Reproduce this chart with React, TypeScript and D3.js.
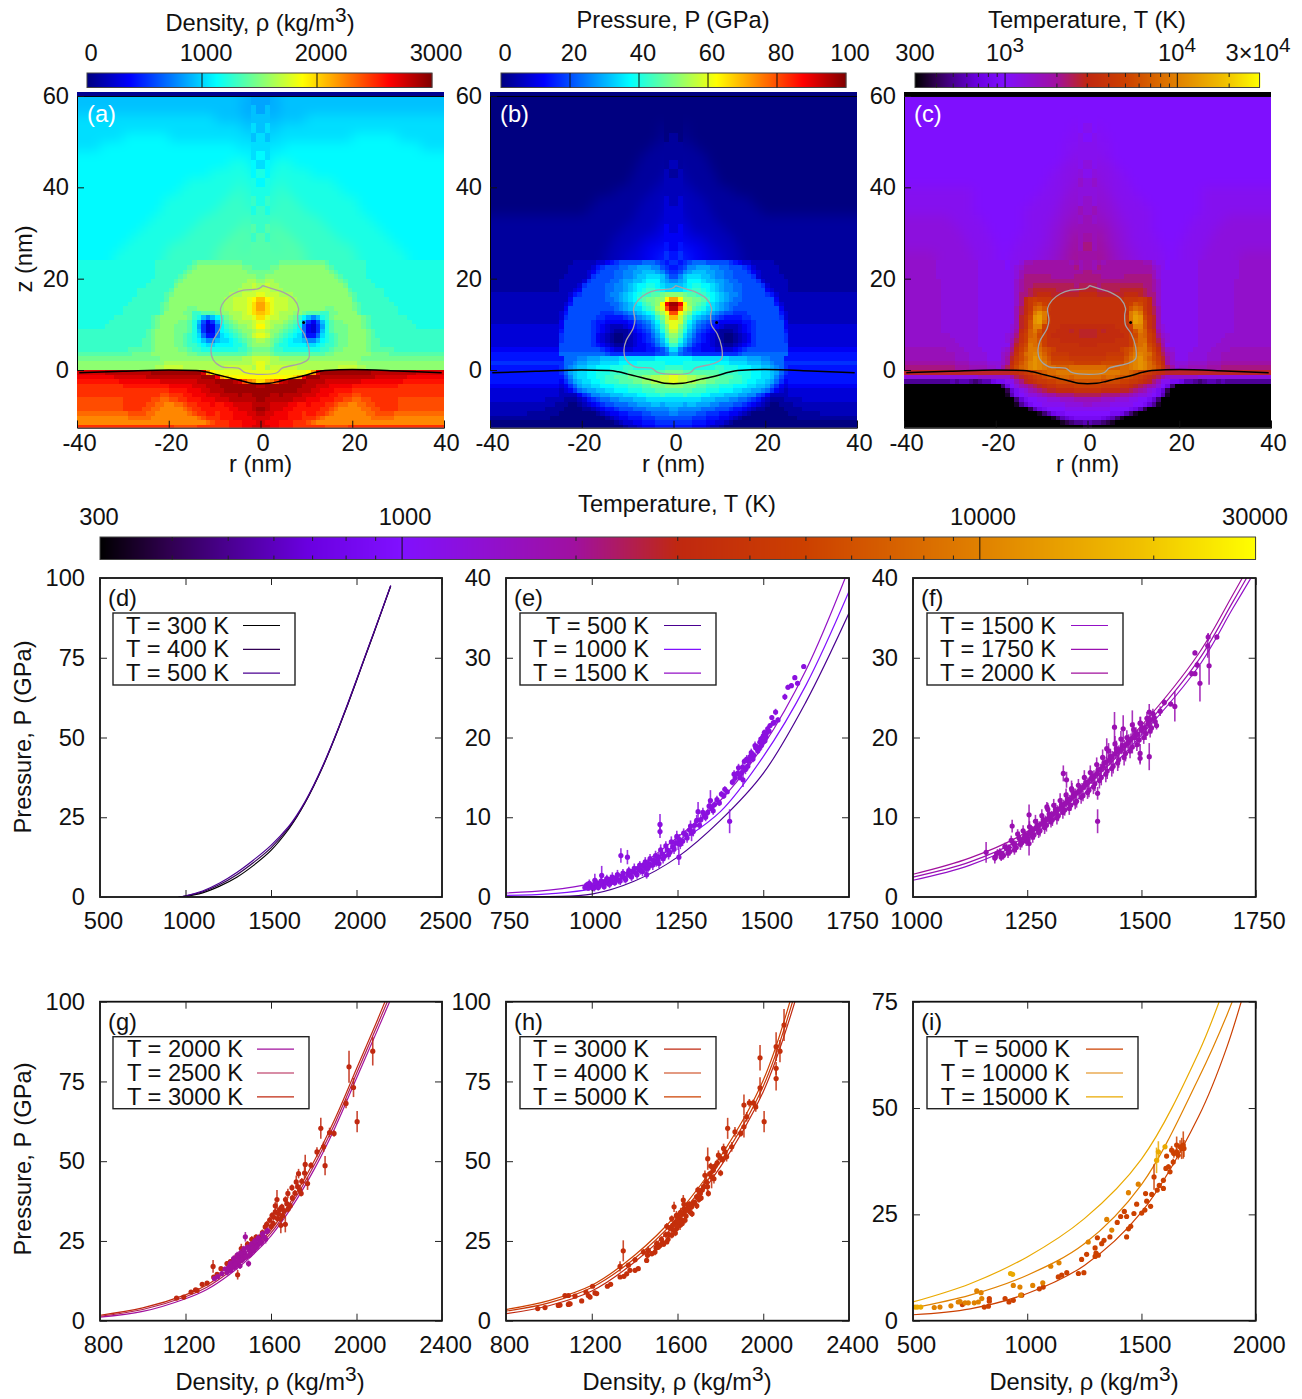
import React, { useEffect, useRef } from 'react';
import * as d3 from 'd3';

const FONT = '"Liberation Sans", Arial, sans-serif';
const FS = 23.7;

// heat maps: one char per nm cell, base 36 level (0..35), r = 0 -> 40 (mirrored), trailing chars repeat
const densityUpper = [
  'aabab bbbbb', 'abaab bbbbb', 'bbabb bbbbb ccccc', 'bcbbc ccccc', 'cbccc ccccc ccccc ccccc ddddd ddddd ccccc',
  'ccdcc ddddd ddddd ddddd ddddd ddddd ddddd ccccc', 'dcddd ddddd', 'cddee eeddd', 'edeee eeeee edddd', 'deeef eeeee eeeee edddd',
  'eefef feeee eeeee eeedd', 'efeff fffee eeeee eeeee edddd', 'fefff fffff eeeee eeeee eeddd', 'ffgff fffff fffee eeeee eeeed',
  'fgfgg fffff fffff eeeee eeeee edddd', 'gfggg ggfff fffff ffeee eeeee eeedd', 'gggfg ggggf fffff fffff eeeee eeeee ddddd',
  'ggggg ggggg fffff fffff feeee eeeee eeddd',
];
const densityLower = [
  'ggggh hhhhh hhhhg fffff fffee eeeee e', 'gghhi iiiii iiiih gffff fffee eeeee e', 'hhhii iiiii iiiii hgfff fffee eeeee e',
  'hiiii iiiii iiiii ihgff fffee eeeee e', 'ijjii iiiii iiiii iihgf ffffe eeeee e', 'jkjji iiiii iiiii iiihf fffff eeeee e',
  'kkjjj iiiii iiiii iiiig fffff ffeee e', 'lkkkj jjiii iiiii iiiih gffff ffeee e', 'omlkk kjjii iiiii iiiii gffff fffee e',
  'pnlkk kjjii iiiii iiiii hgfff ffffe e', 'pnlkk kjjii iiiih hiiii hgfff fffff e', 'onlkj jjiih gggff hhiii igfff fffff e',
  'nlkkj jihfd b9bef hiiii iihgf fffff ffeee e', 'lkjjj ihgea 647be ghhii iihgf fffff fffee e', 'mkjii hgfd8 436ae ghhhi iihgf fffff ffffe e',
  'kjiih gfed8 436be ghhhi iiihg f', 'lkihg fedc9 558ce fghhi iiihg f', 'jihgf edccb 99bde fghhi iiihg gffff f',
  'iihfe edddd ccdef fghhi iiihg gffff f', 'hhgff eeeee eeeff ghhii iiihg ggggf f', 'iihgg ggggg ggggh hiiii iiiih hhhgg g',
  'kkjji iiiii iiiii iiiii iihhh h', 'lkjjj jjjjj jjjjj jjjjj jiiii i', 'ljkkk kkkjj jjjjj jjkkk kjjii i',
  'lllll lllll mpwyy yyyyy yyyyx xxxxx xxxxw w', 'mmmmm mmnpv yyyxx xxxxx xxxxx wwwww wwvvv v', 'npqsw xyyyy xxxxw wwwww wwvvv vvvvv vuuuu u',
  'xyyyy yyyyx xxwww vvvvv uuuuu uuuuu t', 'yyyyy yyyxx xwwvv vuuuu t', 'yyxxy xxxxw wwvvv uuttt ssttt t',
  'yxxxx xxwww vvvuu uttss rrsst ttttt s', 'xxwww wvvuu vuuut tsrrq qrrss ttttt s', 'yxwww vvuuu uuutt srqqq qqrrs stttt s',
  'xwwvv vuuut uutts rqqqq qqqrr ssssr r', 'wwvvv vuuut ttsrq qqqqq qqqqr rrrrq q', 'wvvvu uuttt srqqq q', 'wwvvu uuttt tttts sssst t',
];
const pressureUpper = [
  '0', '0', '0', '00100 0', '10100 0', '11111 0', '11111 11000', '21111 11100', '12111 11110', '22211 11111 0', '22222 11111 11100',
  '23222 22111 11111 11000', '33222 22211 11111 11110', '33322 22221 1', '34332 22222 21111', '44433 33222 22211', '45444 43332 22221 1', '56554 44333 32222 1',
];
const pressureLower = [
  '65678 88777 77654 33222 22111 1', '56799 aaa99 88777 65322 22211 1', '679ab bbaa9 98877 76432 22211 1', '79bcc cbba9 98877 77632 22221 1',
  '9abdd dcbba a9887 77763 22222 1', 'bbcde eddcb a9988 77776 32222 1', 'ccdef fedcb a9988 77777 43222 1', 'iihgg ffedc ba998 77777 65322 2',
  'pmiih hgfdc ba988 77777 77422 2', 'yvmih gfdcb a9887 77777 77532 2', 'xsljg feccb a9877 77777 77742 2', 'smjhe dcba9 87766 67777 77753 2',
  'okhfc ba987 65555 66777 77763 2', 'lkgdb 98765 44444 55677 77774 2', 'lifca 87654 32223 45677 77774 3', 'kheb9 76542 11123 45677 77775 3',
  'igca8 65432 10012 34677 77776 3', 'heb97 65432 10012 34677 77776 3', 'fca86 54432 21123 45677 77777 3', 'c9765 54443 33345 67777 77777 4',
  'a8776 66666 66667 88888 88888 5', 'ddddc ccccc ccbbb baaa9 98885 5', 'ddeee eeedd ddccc cbbba a9886 6', 'ffeee eeeef feeed ddccb ba986 5',
  'hhggg ggggg ffffe eeddc cba86 5', 'lkkjj iihhh gggff eeddc cb975 5', 'lkkjj iihhg ggfff eddcc ba864 5', 'iihhh ggfff eeedd dccbb a8643 4',
  'ggggf ffeee dddcc bbaa9 86432 3', 'eefee eddcc cbbba a9976 42222 3', 'ccccc cbbba aa998 87653 21112 22233 3', 'bbabb aaa99 88877 65432 10011 12222 2',
  'a9999 98887 77655 43211 00001 11122 2', '98888 77666 55443 21000 00000 11111 11222', '77776 66555 44321 00000 00000 00111 1', '66665 55443 32100 0', '55554 44322 10000',
];
const tempUpper = [
  '9', '9', '9', 'a9a9 9', '9a9a9 9', 'aa9aa 9', 'aab9a 9', 'baaba a9999', 'abbab aaa99 9', 'bcbab aaaa9 9',
  'bbcbb aaaaa 99999 99999 99999 a', 'cbbcb baaaa aa999 99999 99999 a', 'cdcbc bbaaa aaaa9 99999 99999 a', 'dcdcc bbbaa aaaa9 99999 999aa aaaaa b',
  'ddcec cbbba aaaa9 99999 99aaa aaabb b', 'edfdc ccbba aaaaa 99999 9aaaa aabbb b', 'fdeed ccbbb aaaaa a9999 aaaaa abbbb b', 'eefed dccbb baaaa aa999 aaaaa bbbbb bbbcc',
];
const tempLower = [
  'edede eeeee eeddb aa9aa aaaab bbbbb bbbcc', 'edfee eeeee eeeec ba9aa aaaab bbbbb bbbcc', 'feeee eeeee eeeed baaaa aaaab bbbbb bbbcc',
  'fffee eeeff ffffd baaaa aaaab bbbbb bbbcc', 'fffff fffff ffffe caaaa aaaab bbbbb bbccc', 'ggfgg ggggg ggffe caaaa aaaab bbbbb bbccc',
  'hhggg gghhh hhgfe caaaa aaaab bbbbb bbccc', 'iihhh hhhii ihgff caaaa aaaab bbbbb bbccc', 'jjjjj jjjkk klkif caaaa aaaab bbbbb bbccc',
  'jjjjj jjjkl nmkif caaaa aaaab bbbbb bbccc', 'jjjjj jjjkn pokig daaaa aaaab bbbbb bbccc', 'jjjjj jjjjq sqlig daaaa aaaab bbbbb bbccc',
  'jjjjj jjjkq tsmjh daaaa aaaab bbbbb bbccc', 'jjjjj jjjkp tsnjh daaaa aaaab bbbbb bbccc', 'iiiii ijjjl rrnjh dbaaa aaaab bbbbb bbccc',
  'hhihi iijjk nqoki ebaaa aaaab bbbbb bbccc', 'hhiii iiijl mpolj fcbaa aaaab bbbbb c', 'iiiii ijjjl npplj gdbaa aaaab bbbbc c',
  'iijjj jjjjl opqmk heaaa aaaab bbbcc c', 'jjjjj jjlmn pqqnl ifcba aaabb bbccc cdd', 'jjjjk kkkmo qrqpm jgdca aabbb bcccd d',
  'kkkkl lllnp rsqom kheca aabbb bcccd d', 'lllmm mmmoq rsrpn liecb bbccc cddde e', 'ppppo ooppq rsrpo mjgeb ccddd deeef f',
  'qqqqq qqppo nmlkj iihhh h', 'pppop ponnm lkjih geccc ccccb b', 'nnnmm mmllk kjihf daa88 75543 45545 4',
  'lllkk kkjji hgfed b9730 0', 'jjjii iihhg fedba 86200 0', 'gggff ffeed cbba9 85100 0', 'dddcc cbbba a9986 30000', 'cbbbb aaaaa 99864 10000',
  'aaaaa 99998 75200 0', '99999 88753 10000', '88876 53100 0', '54432 10000', '10000',
];

// bubble outline and surface line (r, z in nm)
const bubbleR = [0.5, 2.5, 5, 7.2, 8.3, 8.1, 8.3, 9.5, 10.5, 10.5, 9, 4.7, 3.6, -3.3, -4.8, -8.4, -10.3, -10.8, -10.3, -8.8, -8.4, -8.7, -7.7, -5.9, -3.7, -0.4, 0.5];
const bubbleZ = [18.5, 17.8, 17, 15.6, 13.5, 12, 9.8, 8, 5, 2.5, 1.5, 0.4, -0.6, -0.6, 0.4, 0.7, 2.2, 4.4, 6.5, 9.1, 10.9, 13.5, 15.3, 16.7, 17.5, 17.8, 18.5];
const surfaceR = [-39.5, -30, -20, -14, -12, -10, -8, -6, -4, -2, 0, 2, 4, 6, 8, 10, 12, 14, 20, 30, 39.5];
const surfaceZ = [-0.6, -0.3, 0, -0.1, -0.4, -0.9, -1.4, -1.9, -2.4, -2.9, -3, -2.9, -2.5, -2, -1.6, -1.1, -0.5, -0.1, 0.1, -0.2, -0.6];

// EOS curves
const dRho = [960, 1000, 1100, 1200, 1300, 1400, 1500, 1600, 1650, 1700, 1750, 1800, 1850, 1900, 1950, 2000, 2050, 2100, 2150, 2200];
const dP300 = [0, 0.2, 1.3, 3.4, 6.2, 10, 14.6, 21, 25, 29.6, 34.8, 40.5, 46.8, 53.5, 60.5, 67.8, 75.2, 82.5, 90, 97.5];
const dP400 = [0, 0.3, 1.6, 3.9, 7, 10.9, 15.4, 21.4, 25.2, 29.7, 34.9, 40.6, 46.9, 53.6, 60.6, 67.9, 75.3, 82.6, 90, 97.5];
const dP500 = [0, 0.4, 1.9, 4.4, 7.7, 11.7, 16.2, 21.9, 25.6, 30, 35.1, 40.8, 47.1, 53.8, 60.8, 68.1, 75.5, 82.8, 90.2, 97.7];

const eRho = [750, 875, 1000, 1125, 1250, 1375, 1500, 1625, 1750];
const eP500 = [0, 0.05, 0.35, 2, 5, 9.6, 15.5, 24.5, 35.6];
const eP1000 = [0.2, 0.4, 1.05, 3.1, 6.7, 10.7, 17.6, 26.6, 38.3];
const eP1500 = [0.5, 0.85, 1.7, 3.6, 7.5, 12.1, 19, 28.5, 41.2];

const fRho = [1000, 1125, 1250, 1375, 1500, 1625, 1700, 1750];
const fP1500 = [2.1, 4, 7.3, 13, 20.3, 28.9, 36.2, 41];
const fP1750 = [2.5, 4.4, 7.7, 13.6, 20.9, 29.7, 37, 42];
const fP2000 = [2.85, 4.9, 8.2, 14.2, 21.5, 30.5, 37.9, 43];

const gRho = [800, 1000, 1200, 1300, 1400, 1500, 1600, 1700, 1800, 1900, 2000, 2100, 2200];
const gP2000 = [1.1, 2.9, 6.9, 9.8, 14.2, 19.7, 26.6, 35.9, 47.2, 60.6, 76, 91.4, 107];
const gP2500 = [1.4, 3.5, 7.5, 10.5, 15, 20.5, 27.5, 37, 48.5, 62, 77.5, 93, 109];
const gP3000 = [1.7, 4, 8.1, 11.2, 15.8, 21.3, 28.4, 38.1, 49.8, 63.4, 79, 94.6, 111];

const hRho = [800, 1000, 1200, 1400, 1600, 1800, 2000, 2150];
const hP3000 = [2.2, 4.7, 9.3, 18.4, 31, 48.2, 71.8, 100.5];
const hP4000 = [3, 5.6, 10.4, 19.5, 32.3, 49.8, 73.5, 103];
const hP5000 = [3.5, 6.3, 11.1, 20.5, 33.6, 51.4, 75.4, 106];

const iRho = [500, 750, 1000, 1250, 1500, 1750, 1875, 2000];
const iP5000 = [1.4, 2.8, 6.4, 13, 25.5, 48, 64.5, 87];
const iP10000 = [3, 6, 10.7, 18.1, 32, 57, 72, 90];
const iP15000 = [4.4, 8.7, 15, 24, 38, 63, 80, 98];

// simulation points [density, pressure, error]
const ePts = [[980,1.2,.3],[990,1.1,.3],[1000,1.4,.4],[1008,1.2,.5],[1015,1.7,.5],[1022,1.4,.4],[1029,2.7,1.2],[1009,2.1,.8],[1032,1.7,.5],[1040,2,.5],[1048,1.7,.4],[1055,2.2,.6],[1062,1.9,.4],[1070,2.4,.6],[1078,2.1,.5],[1085,5.2,.9],[1088,2.6,.4],[1095,2.4,.6],[1104,5,.9],[1105,2.9,.5],[1112,2.7,.4],[1120,3.2,.6],[1128,3,.5],[1135,3.6,.5],[1142,3.3,.5],[1150,3.9,.5],[1158,3.6,.6],[1160,2.8,.5],[1165,4.2,.5],[1172,4,.4],[1180,4.6,.6],[1188,4.3,.5],[1196,4.2,.6],[1199,9.1,1.3],[1199,8.2,.8],[1195,5,.5],[1205,5.4,.5],[1212,5.1,.6],[1220,5.9,.6],[1228,5.6,.5],[1236,6.3,.7],[1244,6.8,.7],[1252,6.7,.8],[1254,5,1],[1256,7.2,.7],[1265,7,.6],[1275,7.8,.5],[1285,8.4,.6],[1291,8,1],[1300,9,.6],[1310,10.7,1.2],[1318,9.7,.6],[1328,10.2,.5],[1338,10.6,.5],[1346,12.1,1.3],[1350,11.2,.5],[1358,11.6,.4],[1402,9.5,1.5],[1378,12.9,.4],[1388,13.5,.4],[1395,13.2,.3],[1418,14.9,.5],[1425,15.5,.4],[1432,15,.4],[1441,14.7,.9],[1440,16.3,.7],[1448,16,.6],[1452,17.3,.5],[1458,17,.5],[1465,18.1,.5],[1472,17.8,.4],[1478,18.7,.4],[1484,18.3,.4],[1490,19.4,.4],[1495,19,.5],[1500,20.2,.4],[1505,19.6,.4],[1510,20.6,.5],[1520,21.5,.3],[1529,21.8,.3],[1536,23.2,.4],[1543,22.2,.3],[1563,25.1,.4],[1572,26.3,.3],[1582,26.5,.3],[1600,26.8,.3],[1592,27.5,.3],[1618,28.9,.3],
  [985,1.5,.4],[993,1.7,.5],[1003,1.1,.4],[1011,1.8,.6],[1019,1.2,.4],[1027,2,.5],[1036,1.3,.4],[1044,2.3,.5],[1052,1.6,.5],[1060,2.5,.6],[1067,1.8,.4],[1075,2.8,.6],[1083,2,.5],[1091,3,.5],[1099,2.2,.5],[1108,3.3,.5],[1116,2.5,.5],[1124,3.6,.6],[1132,2.8,.5],[1140,4,.5],[1148,3.2,.6],[1156,4.4,.6],[1164,3.6,.5],[1170,4.8,.6],[1178,4,.6],[1186,5.2,.6],[1193,4.6,.5],[1201,5.9,.7],[1208,4.8,.6],[1216,6.4,.6],[1224,5.3,.6],[1232,6.9,.7],[1240,6,.6],[1248,7.6,.7],[1258,6.6,.6],[1268,8,.6],[1278,7.4,.6],[1288,8.9,.7],[1296,8.2,.6],[1306,9.6,.7],[1314,9,.5],[1324,10.6,.6],[1332,10,.5],[1342,11.4,.6],[1354,10.8,.5],[1365,12.2,.5],[1372,11.8,.4],[1385,12.7,.4],[1410,14.4,.4],[1415,15.4,.5],[1428,16.2,.5],[1437,15.6,.5],[1445,17,.4],[1455,16.4,.5],[1462,17.6,.5],[1470,17.3,.4],[1476,19,.5],[1482,18.8,.4],[1488,18.6,.4],[1493,19.8,.4],[1498,19.4,.4],[1503,20.6,.4],[1508,20.1,.4],[1513,21.1,.4],[1517,20.8,.3],[1525,22.5,.3],[1532,21.9,.3]];
const fPts = [[1160,5.6,1.3],[1179,4.9,.7],[1217,8.9,.8],[1254,10.3,1.3],[1254,6.7,1.5],[1293,11.3,.6],[1329,15.5,1],[1336,14.7,1],[1347,13.6,1],[1404,13,.8],[1404,9.5,1.5],[1424,18.6,1.3],[1441,21.3,1.9],[1460,21.1,1.7],[1480,21.6,1.8],[1497,21.8,.8],[1497,18,1.2],[1497,17.4,.8],[1517,17.6,1.7],[1517,23.2,1],[1541,23.3,.6],[1550,24.4,.4],[1564,24.2,.3],[1573,23.9,1.9],[1610,28,.3],[1617,28,.3],[1617,30.6,.3],[1622,29.1,.4],[1628,26.8,2.3],[1646,32.6,.5],[1645,31.5,1.5],[1648,29,2.4],[1665,32.6,.3],
  [1180,5,.5],[1190,5.6,.5],[1198,5.2,.5],[1205,6.1,.6],[1212,5.7,.5],[1220,6.7,.6],[1226,6.2,.6],[1232,7.4,.8],[1238,6.8,.6],[1245,7.7,.6],[1252,7.2,.7],[1258,8.3,.7],[1265,7.8,.6],[1272,9,.8],[1278,8.3,.7],[1285,9.7,.7],[1292,9,.8],[1298,10.4,.8],[1305,9.7,.8],[1312,11,.8],[1318,10.2,.7],[1325,11.6,.8],[1332,10.9,.7],[1338,12.3,.8],[1345,11.5,.7],[1352,12.8,.8],[1358,12,.8],[1365,13.4,.7],[1372,12.7,.7],[1378,14.3,.8],[1385,13.4,.9],[1392,15,.8],[1398,14.2,.9],[1405,15.9,.7],[1412,15,1],[1418,16.8,.9],[1425,15.8,1],[1432,17.6,1],[1438,16.4,.9],[1445,18.6,1],[1450,17.2,1],[1458,19,1],[1465,18,1],[1472,19.5,.9],[1480,18.8,.8],[1488,20.5,.8],[1495,19.7,.8],[1502,21.2,.7],[1510,20.5,.8],[1516,22,.7],[1522,21.2,.7],[1528,22.5,.6],[1533,21.5,.5],
  [1185,5.5,.5],[1193,5,.5],[1201,6.3,.5],[1208,5.5,.6],[1215,7.1,.6],[1222,5.9,.6],[1229,7.9,.6],[1235,6.6,.7],[1241,8.3,.7],[1248,7,.6],[1255,8.8,.7],[1262,7.5,.7],[1268,9.5,.8],[1275,8.1,.7],[1282,10.2,.8],[1288,8.7,.8],[1295,11,.8],[1302,9.4,.7],[1308,11.5,.8],[1315,9.9,.8],[1322,12.1,.9],[1328,10.6,.8],[1335,12.8,.8],[1342,11.1,.8],[1348,13.4,.9],[1355,11.8,.8],[1362,14,.8],[1368,12.5,.8],[1375,15,.9],[1382,13.1,.8],[1388,15.6,.9],[1395,13.8,.9],[1402,16.6,.9],[1408,14.6,1],[1415,17.5,1],[1422,15.4,1],[1428,18.3,1],[1435,16.1,1],[1442,19.2,1],[1448,16.8,1],[1455,19.8,1],[1462,17.5,1],[1468,20,.9],[1475,18.3,.9],[1483,21,.9],[1490,19.1,.8],[1498,21.8,.8],[1505,20,.8],[1512,22.4,.8],[1519,20.8,.8],[1525,23,.6],[1530,22,.6],
  [1195,5.4,.4],[1210,6.2,.4],[1223,6.6,.5],[1235,7.2,.5],[1243,7.4,.5],[1250,7.8,.5],[1256,8,.5],[1262,8.4,.5],[1270,8.6,.5],[1276,9,.5],[1283,9.2,.6],[1290,9.6,.6],[1296,9.8,.5],[1303,10.2,.6],[1310,10.5,.6],[1316,10.9,.6],[1323,11.1,.6],[1330,11.6,.6],[1336,11.8,.6],[1343,12.2,.6],[1350,12.6,.6],[1356,13,.6],[1363,13.2,.6],[1370,13.7,.6],[1376,14,.6],[1383,14.4,.6],[1390,14.8,.6],[1396,15.2,.7],[1403,15.5,.7],[1410,16,.7],[1416,16.4,.7],[1423,16.9,.7],[1430,17.2,.7],[1436,17.6,.7],[1443,18,.7],[1450,18.3,.7],[1456,18.6,.7],[1463,19,.7],[1470,19.3,.7],[1477,19.8,.7],[1485,20,.6],[1492,20.4,.6],[1500,20.9,.6],[1507,21.2,.6],[1514,21.7,.6],[1520,22.2,.6]];
const gPtsHot = [[1158,7.1,.3],[1192,7.4,.5],[1226,9,.3],[1247,9.7,.4],[1254,9.5,.4],[1278,11.4,.6],[1301,11.8,.6],[1329,17,2],[1332,13.7,.6],[1348,14.5,.5],[1366,16.3,.6],[1394,17.9,.8],[1425,18.9,.8],[1444,14.4,1.5],[1461,22.6,1.5],[1519,24.2,1],[1550,26.3,1],[1573,29.4,1],[1594,31.5,1],[1612,32.5,1],[1628,38,3],[1620,34.1,1],[1646,29.9,2.5],[1667,30.2,2.5],[1651,35.7,1],[1674,36.7,1],[1679,39.9,1.5],[1698,41.7,1],[1718,43.5,2],[1729,46.1,1.5],[1741,39.9,1],[1744,43.7,1],[1757,46.3,2],[1760,49,3],[1771,43,2],[1787,48.7,1],[1815,52.9,1.5],[1833,60.3,3.3],[1846,54.5,1.6],[1853,48.6,3],[1874,59,1.5],[1895,58.7,1],[1951,68.1,1.5],[1965,79.6,5],[1986,73.1,3],[2003,62.4,3.3],[2076,84.5,4.5],
  [1410,18.5,.7],[1440,20.2,.9],[1470,22,.9],[1490,24,1],[1510,25.5,1],[1530,26.2,.9],[1560,27.6,1],[1580,30.2,1],[1600,29.5,1],[1605,33,1],[1635,33.5,1.2],[1640,34.8,1.2],[1655,33,1],[1690,36,1],[1610,30.5,1],[1620,36,1.2],[1630,32,1],[1645,32,1],[1660,34.5,1],[1668,38,1],[1680,35,1],[1700,38.5,1],[1712,40,1],[1725,42,1],[1735,41,1.5]];
const gPtsCool = [[1335,13.2,.8],[1350,13.8,.6],[1370,14.8,.9],[1385,16.2,.7],[1395,15.2,1],[1405,17,1],[1412,15.8,.8],[1420,18.2,1.2],[1428,16.8,1],[1435,18.5,1],[1440,17.5,1.5],[1448,19.8,.9],[1455,17.2,1],[1462,20.6,1.2],[1470,19.4,.9],[1480,26.3,1.5],[1478,21.2,1],[1486,20.2,1],[1495,17.9,1],[1497,22.2,1],[1505,21.2,1.2],[1512,23.2,1],[1520,22,1],[1528,24.4,1],[1536,23.5,1],[1545,25.4,1],[1555,24.6,1.3],[1565,26.4,1],[1575,25.5,1.3],[1585,28.2,1],
  [1400,16.5,.8],[1410,18,.9],[1418,17,1],[1425,19.5,1],[1432,17.8,1],[1442,20.6,1],[1450,18.6,1],[1458,21.3,1.2],[1465,19,1],[1473,22.5,1],[1482,20,1],[1490,23,1],[1500,20.6,1],[1508,24,1],[1516,22.8,1],[1524,25,1],[1532,23,1],[1540,26,1],[1550,24.5,1],[1560,27.2,1],[1570,26,1],[1580,28,1]];
const hPts = [[948,3.8,.3],[982,4.1,.3],[1044,4.8,.3],[1052,4.9,.3],[1075,7.9,.3],[1091,7.9,.4],[1094,5.3,.5],[1091,5.1,.5],[1099,5.3,.5],[1122,7.7,.3],[1153,6.2,.6],[1173,9,.6],[1184,7.9,.5],[1192,7.4,.7],[1204,10.8,.5],[1215,8.7,.7],[1223,8.5,.5],[1273,10.8,.6],[1288,11.4,.5],[1332,17,1.6],[1347,21.9,3.3],[1332,13.7,.5],[1350,13.9,.6],[1363,14.7,.7],[1371,17.4,.6],[1378,15.8,.7],[1402,15.8,.7],[1402,19.1,.8],[1417,16.3,.7],[1441,21.5,1],[1456,18.9,.8],[1464,22,1.3],[1495,21.5,1],[1503,24.2,1],[1518,23.6,1],[1550,24.7,.6],[1550,29.6,1],[1573,26.8,1],[1584,35.7,1.6],[1573,32,1],[1596,28.9,1],[1604,32.5,1],[1612,29.9,1.5],[1627,37.8,1.6],[1627,33.6,1],[1651,34.6,1],[1666,35.7,1],[1689,38.8,1],[1705,39.9,1],[1728,45.6,1.5],[1741,50.8,3.5],[1744,39.9,1],[1759,45,3.5],[1767,47.2,1],[1791,51.9,1.5],[1801,46.3,1],[1822,52.9,1.5],[1829,51.4,1.5],[1834,60.3,3.3],[1853,54.5,1.5],[1868,59.2,1.5],[1895,58.7,1],[1910,67.6,3.3],[1910,60.8,3.4],[1923,63.9,1.5],[1935,68.3,1.2],[1954,68.3,1],[1965,67,1.5],[1985,82.4,4],[1985,73,3.3],[2004,62.4,3.3],[2060,85.9,4.5],[2060,79.1,2],[2060,75.9,3.7],[2078,84.5,3.5],[2097,92.7,5],
  [1500,22.8,.8],[1530,24.5,.8],[1560,27,1],[1580,28.4,1],[1590,30.8,1.5],[1600,31,1],[1610,33,1.5],[1620,31.5,1],[1632,35,1.5],[1640,32.8,1],[1648,36.2,1],[1660,34,1],[1675,37,1],[1700,38,1],[1715,41,1.5],[1735,43.5,1.5],[1750,46,1],[1775,48.5,1],[1800,51,1],
  [1460,20.5,.8],[1480,21,.8],[1510,23,.8],[1525,25.5,1],[1535,24,.8],[1545,27,1],[1556,25.5,.9],[1565,29,1],[1578,30,1.2],[1590,27.5,1],[1595,33,1.4],[1600,29.5,1],[1608,31,1.2],[1615,34,1.4],[1622,30.5,1],[1630,36.5,1.3],[1635,31.5,1],[1642,34.8,1.2],[1655,36.5,1],[1668,33.5,1],[1680,37,1],[1690,36,1],[1695,41,1],[1710,38.5,1],[1722,42,1.5],[1740,42,1.5],[1755,48.5,1],[1770,44.5,1.5],[1785,49.5,1],[1810,50.5,1],[1815,54,1.5]];
const iPts15000 = [[509,3.2,.3],[519,3.2,.3],[534,3.2,.3],[927,11.1,.4],[936,10.9,.4],[1574,39.7,2.5],[1566,37.7,3],[1603,40.9,.6]];
const iPts10000 = [[593,3.1,.2],[618,3.2,.2],[666,3.5,.2],[698,4.4,.2],[706,4.5,.2],[728,4.2,.2],[742,4.2,.2],[768,4.2,.2],[779,7,.2],[798,6.6,.3],[786,4.4,.2],[801,5.2,.2],[939,8.3,.2],[968,7.9,.2],[971,6,.3],[1024,8.3,.2],[1068,8.9,.3],[1103,12.8,.2],[1139,13.6,.3],[1267,18.5,.5],[1348,23.8,.4],[1370,21.3,.5],[1443,30.1,.6],[1486,32.1,.5]];
const iPts5000 = [[716,3.8,.2],[812,3.2,.2],[830,3.4,.2],[834,4.6,.2],[834,5.2,.2],[903,5.2,.2],[920,4.4,.2],[939,4.8,.2],[976,6,.2],[1053,7.5,.2],[1070,7.9,.3],[1136,10.3,.2],[1151,10.7,.2],[1173,11.3,.2],[1224,11.1,.2],[1248,11.3,.2],[1238,14.4,.2],[1260,15.6,.3],[1301,15.9,.2],[1297,15.1,.2],[1311,15.4,.2],[1297,17.1,.2],[1307,19.5,.3],[1326,18.1,.5],[1336,18.9,.4],[1362,19.7,.2],[1394,23.1,.2],[1409,24.5,.2],[1425,25.7,.2],[1435,19.7,.2],[1435,24.5,.2],[1443,21.6,.3],[1453,22.2,.3],[1467,25.2,.2],[1479,27.4,.3],[1501,25.3,.2],[1515,26,.3],[1518,29.9,.4],[1523,28.1,.2],[1540,26.9,.2],[1545,29.7,.2],[1555,33.8,3],[1569,30.7,.4],[1578,31.8,.5],[1596,33,.6],[1596,31.1,.5],[1607,35.8,.6],[1618,36.2,.6],[1625,35,.5],[1639,37.3,.8],[1610,38.7,.5],[1632,40.1,1],[1654,41.3,2],[1661,38.9,1],[1676,40.5,2.5],[1683,41.3,3.2],[1654,39.7,1],[1669,40.9,1.5],[1642,39.3,1],[1686,40.5,2]];

const jet = d3.scaleLinear<string>()
  .domain([0, 0.125, 0.375, 0.625, 0.875, 1])
  .range(['#000080', '#0000ff', '#00ffff', '#ffff00', '#ff0000', '#800000']);
const tempPos = d3.scaleLog().domain([300, 30000]).range([0, 1]);
const tempRamp = d3.scaleLinear<string>()
  .domain([0, 0.06, 0.11, 0.18, 0.26, 0.41, 0.5, 0.61, 0.76, 0.9, 1])
  .range(['#000000', '#300050', '#4a0090', '#6a00e0', '#8010ff', '#a010a0', '#c02810', '#cc4000', '#e08000', '#f0c000', '#ffff00']);
const tempColor = (t: number) => tempRamp(tempPos(t));

const decodeRow = (s: string) => {
  const c = s.replace(/ /g, '');
  return d3.range(40).map((i) => parseInt(c[i] ?? c[c.length - 1], 36) / 35);
};

function addText(g: any, x: number, y: number, parts: any[], anchor = 'middle', rotate = 0, fill = '#111') {
  // parts: plain strings, or ['3'] for a superscript
  const t = g.append('text').attr('font-family', FONT).attr('font-size', FS).attr('fill', fill)
    .attr('text-anchor', anchor).attr('dominant-baseline', 'central')
    .attr('transform', `translate(${x},${y - 1})` + (rotate ? ` rotate(${rotate})` : ''));
  let up = false;
  parts.forEach((p) => {
    if (Array.isArray(p)) {
      t.append('tspan').attr('dy', -9).attr('font-size', FS * 0.88).text(p[0]);
      up = true;
    } else {
      t.append('tspan').attr('dy', up ? 9 : 0).text(p);
      up = false;
    }
  });
}

function colorbar(g: any, x0: number, x1: number, y0: number, y1: number, color: (u: number) => string, majors: number[], minors: number[]) {
  const u = d3.scaleLinear().domain([x0, x1]).range([0, 1]);
  g.selectAll(null).data(d3.range(x0, x1)).enter().append('rect')
    .attr('x', (d: number) => d).attr('y', y0).attr('width', 1.3).attr('height', y1 - y0)
    .attr('fill', (d: number) => color(u(d + 0.5)));
  g.append('rect').attr('x', x0).attr('y', y0).attr('width', x1 - x0).attr('height', y1 - y0)
    .attr('fill', 'none').attr('stroke', '#444').attr('stroke-width', 1);
  majors.forEach((m) => g.append('line').attr('x1', u.invert(m)).attr('x2', u.invert(m)).attr('y1', y0).attr('y2', y1).attr('stroke', '#111'));
  minors.forEach((m) => {
    const x = u.invert(m);
    g.append('line').attr('x1', x).attr('x2', x).attr('y1', y0).attr('y2', y0 + 4).attr('stroke', '#222');
    g.append('line').attr('x1', x).attr('x2', x).attr('y1', y1 - 4).attr('y2', y1).attr('stroke', '#222');
  });
}

function heatPanel(svg: any, id: string, x0: number, label: string, upper: string[], lower: string[], color: (u: number) => string, topColor: string, ylabel: boolean, lineColor: string) {
  const W = 367;
  const x = d3.scaleLinear().domain([-40, 40]).range([x0, x0 + W]);
  const z = d3.scaleLinear().domain([0, 60]).range([370, 96]);
  const g = svg.append('g');
  const clip = g.append('clipPath').attr('id', id);
  clip.append('rect').attr('x', x0).attr('y', 92).attr('width', W).attr('height', 335.7);

  // soften the steps between rows, the far field of the original is smooth
  const addBlur = (name: string, std: string) => {
    g.append('filter').attr('id', name).attr('filterUnits', 'userSpaceOnUse')
      .attr('x', x0 - 60).attr('y', 40).attr('width', W + 120).attr('height', 460)
      .attr('color-interpolation-filters', 'sRGB')
      .append('feGaussianBlur').attr('stdDeviation', std);
  };
  addBlur(id + 'u', '6 6');
  addBlur(id + 'l', '0.5 0.5');

  const clipped = g.append('g').attr('clip-path', `url(#${id})`);
  const upperCells = clipped.append('g').attr('filter', `url(#${id}u)`).attr('shape-rendering', 'crispEdges');
  const noiseCells = clipped.append('g').attr('filter', `url(#${id}l)`).attr('shape-rendering', 'crispEdges');
  const lowerCells = clipped.append('g').attr('filter', `url(#${id}l)`).attr('shape-rendering', 'crispEdges');
  const band = (cells: any, zTop: number, h: number, row: string, cols = 40) => {
    decodeRow(row).slice(0, cols).forEach((v, i) => {
      // outermost cell runs past the clip so the blur does not fade at the edge
      const over = i === 39 ? 8 : 0;
      const drawCell = (left: number, right: number) => cells.append('rect')
        .attr('x', x(left)).attr('width', x(right) - x(left) + 0.3)
        .attr('y', z(zTop)).attr('height', z(zTop - h) - z(zTop) + 0.3).attr('fill', color(v));
      drawCell(i, i + 1 + over);
      drawCell(-i - 1 - over, -i);
    });
  };
  upper.forEach((row, i) => {
    band(upperCells, 60 - i * 2, 2, row);
    band(noiseCells, 60 - i * 2, 2, row, 2); // the noisy column at r = 0 stays sharp
    if (i === 0) band(upperCells, 70, 10, row);
    if (i === upper.length - 1) band(upperCells, 24, 8, row);
  });
  lower.forEach((row, i) => {
    band(lowerCells, 24 - i, 1, row);
    if (i === lower.length - 1) band(lowerCells, 24 - i - 1, 5, row);
  });
  clipped.append('rect').attr('x', x0).attr('y', 92).attr('width', W).attr('height', z(60) - 92).attr('fill', topColor);

  const line = d3.line<number>().x((d, i) => x(surfaceR[i])).y((d) => z(d)).curve(d3.curveMonotoneX);
  g.append('path').attr('d', line(surfaceZ)).attr('fill', 'none').attr('stroke', '#000').attr('stroke-width', 1.5);
  g.append('line').attr('x1', x0).attr('x2', x0 + W).attr('y1', z(59.9)).attr('y2', z(59.9)).attr('stroke', '#000').attr('stroke-width', 1);
  const bubble = d3.line<number>().x((d, i) => x(bubbleR[i])).y((d) => z(d)).curve(d3.curveCatmullRom);
  g.append('path').attr('d', bubble(bubbleZ)).attr('fill', 'none').attr('stroke', lineColor).attr('stroke-width', 1.3);
  g.append('circle').attr('cx', x(9.4)).attr('cy', z(10.4)).attr('r', 1.5).attr('fill', '#000');

  const ax = g.append('g').attr('transform', 'translate(0,427.7)')
    .call(d3.axisBottom(x).tickValues([-40, -20, 0, 20, 40]).tickFormat((d: any) => String(d)).tickSize(-7).tickPadding(6));
  const ay = g.append('g').attr('transform', `translate(${x0},0)`)
    .call(d3.axisLeft(z).tickValues([0, 20, 40, 60]).tickFormat((d: any) => String(d)).tickSize(-7).tickPadding(8));
  [ax, ay].forEach((a: any) => {
    a.select('.domain').attr('stroke', '#000').attr('stroke-width', 1);
    a.selectAll('text').attr('font-family', FONT).attr('font-size', FS).attr('fill', '#111');
    a.selectAll('line').attr('stroke', '#111');
  });
  ax.selectAll('text').attr('dx', 2);
  addText(g, x0 + 183.5, 465, ['r (nm)']);
  if (ylabel) addText(g, 24, 260, ['z (nm)'], 'middle', -90);
  addText(g, x0 + 10, 115, [label], 'start', 0, '#fff');
}

function eosPanel(svg: any, o: any) {
  const x = d3.scaleLinear().domain(o.xDomain).range([o.x0, o.x1]);
  const y = d3.scaleLinear().domain(o.yDomain).range([o.y1, o.y0]);
  const g = svg.append('g');
  g.append('clipPath').attr('id', o.id).append('rect').attr('x', o.x0).attr('y', o.y0).attr('width', o.x1 - o.x0).attr('height', o.y1 - o.y0);
  const body = g.append('g').attr('clip-path', `url(#${o.id})`);

  const curve = d3.line<number>().x((d, i) => x(o.rho[i])).y((d) => y(d)).curve(d3.curveCatmullRom.alpha(0.5));
  o.series.forEach((s: any) => {
    body.append('path').attr('d', curve(s.p)).attr('fill', 'none').attr('stroke', tempColor(s.t)).attr('stroke-width', 1.2);
  });
  (o.points || []).forEach((grp: any) => {
    const c = tempColor(grp.t);
    body.selectAll(null).data(grp.pts).enter().append('line')
      .attr('x1', (d: number[]) => x(d[0])).attr('x2', (d: number[]) => x(d[0]))
      .attr('y1', (d: number[]) => y(d[1] - d[2])).attr('y2', (d: number[]) => y(d[1] + d[2]))
      .attr('stroke', c).attr('stroke-width', 1.6).attr('opacity', 0.85);
    body.selectAll(null).data(grp.pts).enter().append('circle')
      .attr('cx', (d: number[]) => x(d[0])).attr('cy', (d: number[]) => y(d[1])).attr('r', 2.6).attr('fill', c);
  });

  g.append('rect').attr('x', o.x0).attr('y', o.y0).attr('width', o.x1 - o.x0).attr('height', o.y1 - o.y0)
    .attr('fill', 'none').attr('stroke', '#111').attr('stroke-width', 1.8);

  const axes: any[] = [
    g.append('g').attr('transform', `translate(0,${o.y1})`).call(d3.axisBottom(x).tickValues(o.xTicks).tickFormat((d: any) => String(d)).tickSize(-7).tickPadding(15)),
    g.append('g').attr('transform', `translate(${o.x0},0)`).call(d3.axisLeft(y).tickValues(o.yTicks).tickFormat((d: any) => String(d)).tickSize(-7).tickPadding(15)),
    g.append('g').attr('transform', `translate(0,${o.y0})`).call(d3.axisTop(x).tickValues(o.xTicks).tickFormat(() => '').tickSize(-7)),
    g.append('g').attr('transform', `translate(${o.x1},0)`).call(d3.axisRight(y).tickValues(o.yTicks).tickFormat(() => '').tickSize(-7)),
  ];
  axes.forEach((a) => {
    a.select('.domain').remove();
    a.selectAll('line').attr('stroke', '#222');
    a.selectAll('text').attr('font-family', FONT).attr('font-size', FS).attr('fill', '#111');
  });
  axes[0].selectAll('text').attr('dx', 3);

  // legend
  g.append('rect').attr('x', o.legend[0]).attr('y', o.y0 + 35).attr('width', o.legend[3] - o.legend[0]).attr('height', 72)
    .attr('fill', '#fff').attr('stroke', '#222').attr('stroke-width', 1.4);
  o.series.forEach((s: any, i: number) => {
    const yy = o.y0 + 47.5 + i * 23.8;
    addText(g, o.legend[1], yy + 1, [`T = ${s.t} K`], 'end');
    g.append('line').attr('x1', o.legend[2]).attr('x2', o.legend[3] - 15).attr('y1', yy).attr('y2', yy).attr('stroke', tempColor(s.t)).attr('stroke-width', 1.2);
  });
  addText(g, o.x0 + 8, o.y0 + 21, [o.label], 'start');
}

export default function App() {
  const ref = useRef<SVGSVGElement>(null);

  useEffect(() => {
    document.body.style.margin = '0';
    const svg = d3.select(ref.current);
    svg.selectAll('*').remove();

    // top row colorbars and maps
    const densityBar = d3.scaleLinear().domain([0, 3000]).range([87, 432]);
    colorbar(svg.append('g'), 87, 432, 73, 87.5, jet, [1000, 2000].map((d) => d / 3000), []);
    [0, 1000, 2000, 3000].forEach((d) => addText(svg, densityBar(d) + 4, 54, [String(d)]));
    addText(svg, 260, 24, ['Density, ρ (kg/m', ['3'], ')']);

    const pressureBar = d3.scaleLinear().domain([0, 100]).range([501, 846]);
    colorbar(svg.append('g'), 501, 846, 73, 87.5, jet, [20, 40, 60, 80].map((d) => d / 100), []);
    [0, 20, 40, 60, 80, 100].forEach((d) => addText(svg, pressureBar(d) + 4, 54, [String(d)]));
    addText(svg, 673, 21, ['Pressure, P (GPa)']);

    const minorT = [400, 500, 600, 700, 800, 900, 2000, 3000, 4000, 5000, 6000, 7000, 8000, 9000, 20000];
    colorbar(svg.append('g'), 915, 1259.5, 73, 87.5, tempRamp, [1000, 10000].map((d) => tempPos(d)), minorT.map((d) => tempPos(d)));
    addText(svg, 915, 54, ['300']);
    addText(svg, 1005, 54, ['10', ['3']]);
    addText(svg, 1177, 54, ['10', ['4']]);
    addText(svg, 1258, 54, ['3×10', ['4']]);
    addText(svg, 1087, 21, ['Temperature, T (K)']);

    heatPanel(svg, 'clipA', 77, '(a)', densityUpper, densityLower, jet, '#000090', true, '#a8a0a8');
    heatPanel(svg, 'clipB', 490, '(b)', pressureUpper, pressureLower, jet, '#000080', false, '#a8a0a8');
    heatPanel(svg, 'clipC', 904, '(c)', tempUpper, tempLower, tempRamp, '#000000', false, '#a0a4a8');

    // wide temperature colorbar
    colorbar(svg.append('g'), 100, 1255.5, 537, 559.5, tempRamp, [1000, 10000].map((d) => tempPos(d)), minorT.map((d) => tempPos(d)));
    addText(svg, 99, 518, ['300']);
    addText(svg, 405, 518, ['1000']);
    addText(svg, 983, 518, ['10000']);
    addText(svg, 1255, 518, ['30000']);
    addText(svg, 677, 505, ['Temperature, T (K)']);

    // equation of state panels
    const row1 = { y0: 578, y1: 897 };
    const row2 = { y0: 1001.7, y1: 1320.7 };
    const px = [[100, 442], [506, 849], [913, 1255.7]];
    eosPanel(svg, { id: 'clipD', label: '(d)', ...row1, x0: px[0][0], x1: px[0][1], xDomain: [500, 2500], yDomain: [0, 100], xTicks: [500, 1000, 1500, 2000, 2500], yTicks: [0, 25, 50, 75, 100],
      rho: dRho, series: [{ t: 300, p: dP300 }, { t: 400, p: dP400 }, { t: 500, p: dP500 }], legend: [113, 229, 243, 295] });
    eosPanel(svg, { id: 'clipE', label: '(e)', ...row1, x0: px[1][0], x1: px[1][1], xDomain: [750, 1750], yDomain: [0, 40], xTicks: [750, 1000, 1250, 1500, 1750], yTicks: [0, 10, 20, 30, 40],
      rho: eRho, series: [{ t: 500, p: eP500 }, { t: 1000, p: eP1000 }, { t: 1500, p: eP1500 }], points: [{ t: 1250, pts: ePts }], legend: [520, 649, 664, 716] });
    eosPanel(svg, { id: 'clipF', label: '(f)', ...row1, x0: px[2][0], x1: px[2][1], xDomain: [1000, 1750], yDomain: [0, 40], xTicks: [1000, 1250, 1500, 1750], yTicks: [0, 10, 20, 30, 40],
      rho: fRho, series: [{ t: 1500, p: fP1500 }, { t: 1750, p: fP1750 }, { t: 2000, p: fP2000 }], points: [{ t: 1750, pts: fPts }], legend: [927, 1056, 1071, 1123] });
    eosPanel(svg, { id: 'clipG', label: '(g)', ...row2, x0: px[0][0], x1: px[0][1], xDomain: [800, 2400], yDomain: [0, 100], xTicks: [800, 1200, 1600, 2000, 2400], yTicks: [0, 25, 50, 75, 100],
      rho: gRho, series: [{ t: 2000, p: gP2000 }, { t: 2500, p: gP2500 }, { t: 3000, p: gP3000 }], points: [{ t: 3000, pts: gPtsHot }, { t: 2000, pts: gPtsCool }], legend: [113, 243, 257, 309] });
    eosPanel(svg, { id: 'clipH', label: '(h)', ...row2, x0: px[1][0], x1: px[1][1], xDomain: [800, 2400], yDomain: [0, 100], xTicks: [800, 1200, 1600, 2000, 2400], yTicks: [0, 25, 50, 75, 100],
      rho: hRho, series: [{ t: 3000, p: hP3000 }, { t: 4000, p: hP4000 }, { t: 5000, p: hP5000 }], points: [{ t: 3500, pts: hPts }], legend: [520, 649, 664, 716] });
    eosPanel(svg, { id: 'clipI', label: '(i)', ...row2, x0: px[2][0], x1: px[2][1], xDomain: [500, 2000], yDomain: [0, 75], xTicks: [500, 1000, 1500, 2000], yTicks: [0, 25, 50, 75],
      rho: iRho, series: [{ t: 5000, p: iP5000 }, { t: 10000, p: iP10000 }, { t: 15000, p: iP15000 }], points: [{ t: 5000, pts: iPts5000 }, { t: 10000, pts: iPts10000 }, { t: 15000, pts: iPts15000 }], legend: [927, 1070, 1086, 1138] });

    addText(svg, 23, 738, ['Pressure, P (GPa)'], 'middle', -90);
    addText(svg, 23, 1160, ['Pressure, P (GPa)'], 'middle', -90);
    [270, 677, 1084].forEach((cx) => addText(svg, cx, 1383, ['Density, ρ (kg/m', ['3'], ')']));
  }, []);

  return <svg ref={ref} width={1302} height={1399} style={{ display: 'block', background: '#fff' }} />;
}
